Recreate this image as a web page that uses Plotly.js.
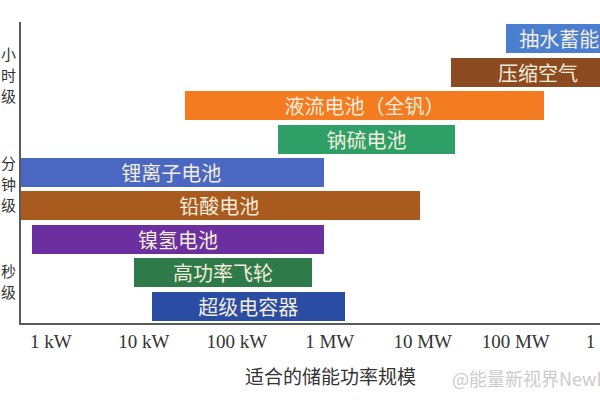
<!DOCTYPE html>
<html>
<head>
<meta charset="utf-8">
<script src="https://cdn.plot.ly/plotly-3.0.1.min.js"></script>
<style>
html, body { margin: 0; padding: 0; overflow: hidden; background: #fff; }
#chart { width: 660px; height: 400px; }
</style>
</head>
<body>
<div id="chart"></div>
<script>
// Storage technologies (top to bottom) and the power range each suits, in kW
const technologies = ['抽水蓄能', '压缩空气', '液流电池（全钒）', '钠硫电池', '锂离子电池', '铅酸电池', '镍氢电池', '高功率飞轮', '超级电容器'];
const rangeStartKW = [78000, 20000, 28, 280, 0.45, 0.45, 0.63, 7.8, 12.2];
const rangeEndKW   = [1100000, 1500000, 200000, 22000, 870, 9300, 870, 650, 1450];
const barColors = ['#4a7fd0', '#8b4a1f', '#f47b20', '#2ea067', '#4a68c2', '#a85a1f', '#6b2fa0', '#2f7a49', '#2a4ca3'];

const tickValsKW = [1, 10, 100, 1000, 10000, 100000, 1000000];
const tickLabels = ['1 kW', '10 kW', '100 kW', '1 MW', '10 MW', '100 MW', '1 GW'];

// Duration groups on the left, written vertically one character at a time
const groupChars = [['小', '时', '级'], ['分', '钟', '级'], ['秒', '级']];
const groupCenterFrac = [0.827, 0.465, 0.140];
const axisTitle = '适合的储能功率规模';
const watermark = '@能量新视界NewEnergy';

const cjk = '"Noto Sans CJK SC", "Noto Sans", sans-serif';

const trace = {
  type: 'bar',
  orientation: 'h',
  y: technologies,
  base: rangeStartKW,
  x: rangeEndKW.map((e, i) => e - rangeStartKW[i]),
  width: 0.87,
  marker: { color: barColors, line: { width: 0 } },
  text: technologies,
  textposition: 'inside',
  insidetextanchor: 'middle',
  constraintext: 'none',
  textfont: { family: cjk, size: 20, color: '#f3ecdc' },
  hoverinfo: 'skip'
};

const plotH = 301; // plot area height in px, used to space the vertical characters
const annotations = [];
groupChars.forEach((chars, g) => {
  const n = chars.length;
  chars.forEach((ch, i) => {
    const offsetPx = (i - (n - 1) / 2) * 21;
    annotations.push({
      text: ch, xref: 'paper', yref: 'paper',
      x: -0.021, y: groupCenterFrac[g] - offsetPx / plotH,
      showarrow: false, xanchor: 'center', yanchor: 'middle', borderpad: 0,
      font: { family: cjk, size: 15, color: '#333' }
    });
  });
});
annotations.push({
  text: watermark, xref: 'paper', yref: 'paper', x: 0.693, y: -0.183,
  showarrow: false, xanchor: 'left', yanchor: 'middle',
  font: { family: cjk, size: 18, color: '#cccccc' }
});

const layout = {
  width: 660,
  height: 400,
  margin: { l: 21, r: 20, t: 22, b: 77 },
  paper_bgcolor: '#ffffff',
  plot_bgcolor: '#ffffff',
  showlegend: false,
  bargap: 0,
  xaxis: {
    type: 'log',
    range: [-0.32, 6.336],
    tickvals: tickValsKW,
    ticktext: tickLabels,
    ticks: '',
    showgrid: false,
    zeroline: false,
    showline: true,
    linecolor: '#5a5a5a',
    linewidth: 2,
    tickfont: { family: '"Liberation Serif", "DejaVu Serif", serif', size: 19, color: '#333' },
    title: { text: axisTitle, font: { family: cjk, size: 19, color: '#333' }, standoff: 20 }
  },
  yaxis: {
    type: 'category',
    autorange: 'reversed',
    showticklabels: false,
    ticks: '',
    showgrid: false,
    zeroline: false,
    showline: true,
    linecolor: '#5a5a5a',
    linewidth: 2
  },
  annotations: annotations
};

Plotly.newPlot('chart', [trace], layout, { displayModeBar: false, staticPlot: true });
</script>
</body>
</html>
